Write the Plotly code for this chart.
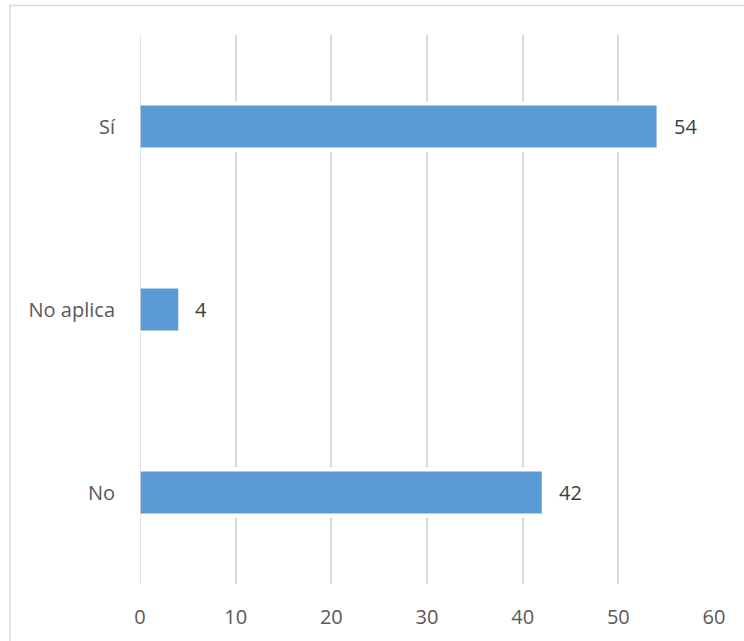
import plotly.graph_objects as go

categories = ["No", "No aplica", "Sí"]
values = [42, 4, 54]
x_ticks = [0, 10, 20, 30, 40, 50, 60]

BAR_COLOR = "#5B9BD5"
GRID = "#D9D9D9"
FONT = "Open Sans"
FS = 20

fig = go.Figure()
# white backing bar to interrupt gridlines around bars
fig.add_trace(go.Bar(
    y=categories, x=[v - 0.25 for v in values], base=0.25, orientation="h",
    width=0.275, marker=dict(color="white", line=dict(width=0)),
    hoverinfo="skip", showlegend=False))
fig.add_trace(go.Bar(
    y=categories, x=values, orientation="h", width=0.23,
    marker=dict(color=BAR_COLOR, line=dict(width=0)), showlegend=False))

for c, v in zip(categories, values):
    fig.add_annotation(x=v, y=c, text=str(v), showarrow=False, xanchor="left",
                       xshift=15, font=dict(family=FONT, size=FS, color="#404040"))

W, H = 744, 641
L, R, T, B = 140, 30, 35, 57
pw, ph = W - L - R, H - T - B

fig.add_shape(type="line", xref="x", yref="paper", x0=0, x1=0, y0=0, y1=1,
              line=dict(color=GRID, width=1.5), layer="above")
fig.add_shape(type="rect", xref="paper", yref="paper",
              x0=(10 - L) / pw, x1=(760 - L) / pw,
              y0=(H - B - 660) / ph, y1=(H - B - 5.5) / ph,
              line=dict(color=GRID, width=1.5), fillcolor="rgba(0,0,0,0)", layer="below")

fig.update_layout(
    width=W, height=H, margin=dict(l=L, r=R, t=T, b=B),
    paper_bgcolor="white", plot_bgcolor="white", barmode="overlay",
    font=dict(family=FONT, size=FS, color="#595959"),
    xaxis=dict(range=[0, 60], tickvals=x_ticks, showgrid=True, gridcolor=GRID,
               gridwidth=1.5, zeroline=False, showline=False,
               ticks="outside", ticklen=15, tickcolor="rgba(0,0,0,0)",
               tickfont=dict(family=FONT, size=FS, color="#595959")),
    yaxis=dict(categoryorder="array", categoryarray=categories, showgrid=False,
               zeroline=False, showline=False, ticks="outside", ticklen=20,
               tickcolor="rgba(0,0,0,0)",
               tickfont=dict(family=FONT, size=FS, color="#595959")),
)

fig.write_html("out.html", config={"displayModeBar": False},
               post_script="document.body.style.margin='0px';")
